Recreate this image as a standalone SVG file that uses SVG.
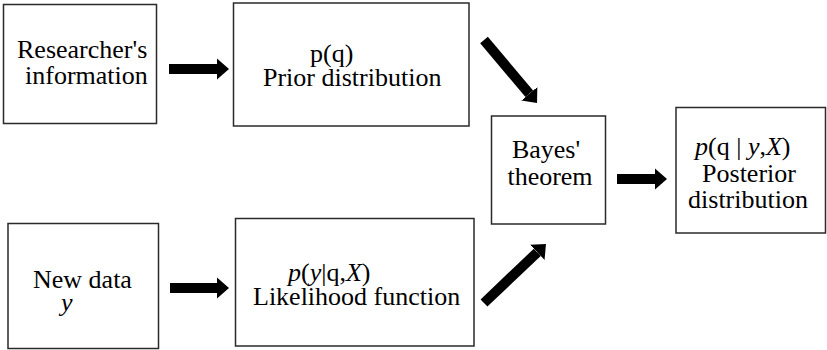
<svg xmlns="http://www.w3.org/2000/svg" width="827" height="350" viewBox="0 0 827 350">
<defs>
<style>
.box{fill:#fff;stroke:#2a2a2a;stroke-width:1.5}
.t{font-size:26px;fill:#000}
.i{font-style:italic}
.arr{stroke:#000;stroke-width:10;fill:none;marker-end:url(#head)}
</style>
<marker id="head" markerUnits="userSpaceOnUse" viewBox="0 -11 13 22" refX="0" refY="0" markerWidth="13" markerHeight="22" orient="auto">
<path d="M0,-10.5 L12,0 L0,10.5 Z" fill="#000"/>
</marker>
</defs>
<rect width="827" height="350" fill="#fff"/>
<g font-family="Liberation Serif, DejaVu Serif, serif">
<g id="researcher">
<rect class="box" x="3.5" y="4.5" width="153" height="119"/>
<text class="t" x="17" y="58">Researcher's</text>
<text class="t" x="25" y="84">information</text>
</g>
<g id="prior">
<rect class="box" x="233.5" y="3" width="235.5" height="123"/>
<text class="t" x="310" y="62">p(q)</text>
<text class="t" x="263" y="86">Prior distribution</text>
</g>
<g id="bayes">
<rect class="box" x="491.5" y="116" width="114" height="108"/>
<text class="t" x="546" y="158" text-anchor="middle">Bayes'</text>
<text class="t" x="550" y="185" text-anchor="middle">theorem</text>
</g>
<g id="posterior">
<rect class="box" x="676" y="107.5" width="149.5" height="125.5"/>
<text class="t" x="695" y="155"><tspan class="i">p</tspan>(q | <tspan class="i">y</tspan>,<tspan class="i">X</tspan>)</text>
<text class="t" x="749" y="182" text-anchor="middle">Posterior</text>
<text class="t" x="748" y="208" text-anchor="middle">distribution</text>
</g>
<g id="newdata">
<rect class="box" x="8" y="223.5" width="150.5" height="125"/>
<text class="t"><tspan x="33" y="288">New data</tspan><tspan class="i" x="61" y="311">y</tspan></text>
</g>
<g id="likelihood">
<rect class="box" x="235.5" y="218.5" width="238.5" height="127.5"/>
<text class="t" x="288" y="281"><tspan class="i">p</tspan>(<tspan class="i">y</tspan>|q,<tspan class="i">X</tspan>)</text>
<text class="t" x="253" y="305">Likelihood function</text>
</g>
</g>
<g id="connectors">
<line class="arr" x1="169" y1="69" x2="217" y2="69"/>
<line class="arr" x1="170" y1="288" x2="217" y2="288"/>
<line class="arr" x1="617" y1="179" x2="655" y2="179"/>
<line class="arr" x1="484" y1="40" x2="529.3" y2="93.8"/>
<line class="arr" x1="484" y1="303" x2="537.3" y2="252.3"/>
</g>
</svg>
